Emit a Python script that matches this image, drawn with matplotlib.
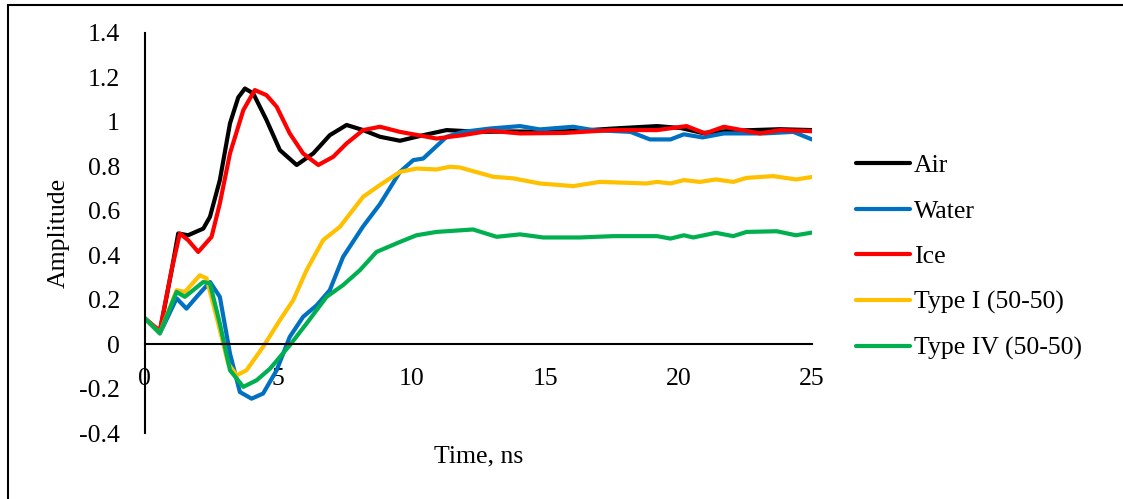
import matplotlib
matplotlib.use("Agg")
import matplotlib.pyplot as plt
from matplotlib.patches import Rectangle

# time (ns) / amplitude
air_t = [0, 0.56, 1.0, 1.25, 1.62, 2.19, 2.44, 2.81, 3.19, 3.5, 3.75, 4.06, 4.56, 5.06, 5.69,
         6.31, 6.93, 7.56, 8.18, 8.81, 9.56, 10.43, 11.31, 12.55, 13.8, 15.05, 16.3,
         17.55, 19.2, 20.1, 20.9, 22.0, 23.8, 25]
air_a = [0.116, 0.055, 0.33, 0.498, 0.49, 0.52, 0.573, 0.738, 0.993, 1.11, 1.15, 1.128, 1.008,
         0.873, 0.806, 0.858, 0.94, 0.986, 0.963, 0.933, 0.915, 0.94, 0.963, 0.955, 0.957,
         0.955, 0.96, 0.97, 0.981, 0.972, 0.95, 0.96, 0.967, 0.963]

water_t = [0, 0.56, 1.19, 1.56, 1.94, 2.44, 2.81, 3.19, 3.56, 4.0, 4.43, 4.94, 5.43, 5.93,
           6.44, 6.93, 7.43, 8.18, 8.81, 9.56, 10.06, 10.43, 11.31, 11.93, 12.93, 14.06,
           14.8, 16.05, 16.8, 18.2, 18.93, 19.7, 20.2, 20.9, 21.7, 23.2, 24.3, 25]
water_a = [0.116, 0.048, 0.206, 0.16, 0.213, 0.28, 0.213, -0.042, -0.215, -0.245, -0.222,
           -0.117, 0.033, 0.123, 0.175, 0.243, 0.393, 0.53, 0.63, 0.775, 0.828, 0.835, 0.933,
           0.955, 0.97, 0.981, 0.966, 0.978, 0.963, 0.955, 0.921, 0.921, 0.944, 0.93, 0.948,
           0.948, 0.955, 0.921]

ice_t = [0, 0.56, 1.0, 1.31, 1.62, 2.0, 2.5, 2.81, 3.19, 3.69, 4.12, 4.56, 4.94, 5.43,
         5.93, 6.5, 7.06, 7.56, 8.18, 8.81, 9.56, 10.93, 11.9, 12.93, 14.06, 15.7, 17.5,
         19.2, 20.3, 21.0, 21.7, 23.05, 23.8, 25]
ice_a = [0.116, 0.06, 0.333, 0.498, 0.468, 0.415, 0.483, 0.633, 0.858, 1.053, 1.143, 1.12,
         1.068, 0.948, 0.858, 0.806, 0.843, 0.903, 0.963, 0.978, 0.955, 0.925, 0.94, 0.96,
         0.948, 0.95, 0.963, 0.963, 0.981, 0.948, 0.978, 0.948, 0.963, 0.958]

type1_t = [0, 0.56, 1.19, 1.5, 2.06, 2.31, 2.75, 3.12, 3.44, 3.81, 4.43, 5.06, 5.56, 6.06,
           6.68, 7.31, 8.18, 8.81, 9.56, 10.18, 10.93, 11.43, 11.8, 13.06, 13.8, 14.8,
           16.05, 17.05, 18.8, 19.2, 19.7, 20.2, 20.8, 21.4, 22.05, 22.55, 23.55, 24.4, 25]
type1_a = [0.116, 0.05, 0.243, 0.235, 0.31, 0.296, 0.093, -0.087, -0.14, -0.117, -0.012,
           0.108, 0.198, 0.333, 0.468, 0.528, 0.663, 0.716, 0.775, 0.79, 0.786, 0.798, 0.795,
           0.753, 0.746, 0.723, 0.711, 0.73, 0.723, 0.73, 0.723, 0.738, 0.73, 0.741, 0.73,
           0.748, 0.756, 0.741, 0.752]

type4_t = [0, 0.56, 1.19, 1.5, 2.19, 2.44, 2.81, 3.19, 3.69, 4.19, 4.69, 5.43, 6.06, 6.81,
           7.43, 8.06, 8.68, 9.56, 10.18, 10.93, 12.3, 13.18, 14.06, 14.93, 16.3, 17.55,
           19.2, 19.7, 20.2, 20.55, 21.4, 22.05, 22.55, 23.68, 24.4, 25]
type4_a = [0.116, 0.05, 0.235, 0.213, 0.28, 0.273, 0.093, -0.117, -0.192, -0.162, -0.11,
           -0.005, 0.093, 0.213, 0.266, 0.333, 0.415, 0.46, 0.49, 0.505, 0.516, 0.483, 0.494,
           0.48, 0.48, 0.486, 0.486, 0.475, 0.49, 0.48, 0.501, 0.486, 0.505, 0.508, 0.49,
           0.502]

x_ticks = [0, 5, 10, 15, 20, 25]
y_ticks = [-0.4, -0.2, 0, 0.2, 0.4, 0.6, 0.8, 1, 1.2, 1.4]


def main():
    plt.rcParams['font.family'] = ['Liberation Serif', 'DejaVu Serif']
    plt.rcParams['lines.solid_joinstyle'] = 'round'
    plt.rcParams['lines.solid_capstyle'] = 'round'
    fig = plt.figure(figsize=(11.23, 4.99), dpi=100)
    ax = fig.add_axes([0.129, 0.132, 0.594, 0.802])

    lw = 3.0
    ax.plot(air_t, air_a, color='#000000', lw=lw, label='Air')
    ax.plot(water_t, water_a, color='#0070C0', lw=lw, label='Water')
    ax.plot(ice_t, ice_a, color='#FF0000', lw=lw, label='Ice')
    ax.plot(type1_t, type1_a, color='#FFC000', lw=lw, label='Type I (50-50)')
    ax.plot(type4_t, type4_a, color='#00B050', lw=lw, label='Type IV (50-50)')

    ax.set_xlim(0, 25)
    ax.set_ylim(-0.4, 1.4)
    ax.set_xticks(x_ticks)
    ax.set_yticks(y_ticks)
    ax.set_xticklabels([str(v) for v in x_ticks])
    ax.set_yticklabels(['%g' % v for v in y_ticks])

    ax.spines['left'].set_position(('data', 0))
    ax.spines['bottom'].set_position(('data', 0))
    ax.spines['top'].set_visible(False)
    ax.spines['right'].set_visible(False)
    ax.spines['left'].set_linewidth(1.5)
    ax.spines['bottom'].set_linewidth(1.5)
    ax.tick_params(length=0, labelsize=18.5)
    ax.tick_params(axis='x', pad=17)
    ax.tick_params(axis='y', pad=18)

    ax.set_xlabel('Time, ns', fontsize=18.5)
    ax.xaxis.set_label_coords(0.5, -0.03)
    ax.set_ylabel('Amplitude', fontsize=18.5)
    ax.yaxis.set_label_coords(-0.112, 0.5)

    ax.legend(loc='center left', bbox_to_anchor=(1.066, 0.44), frameon=False,
              fontsize=18.5, handlelength=2.1, handletextpad=0.15, labelspacing=0.88,
              borderaxespad=0, borderpad=0)

    fig.patches.append(Rectangle((8 / 1123, -0.1), 1.2, 1 - 5 / 499 + 0.1,
                                 transform=fig.transFigure, fill=False,
                                 edgecolor='black', lw=1.5))

    fig.savefig('out.png', dpi=100)


if __name__ == "__main__":
    main()
